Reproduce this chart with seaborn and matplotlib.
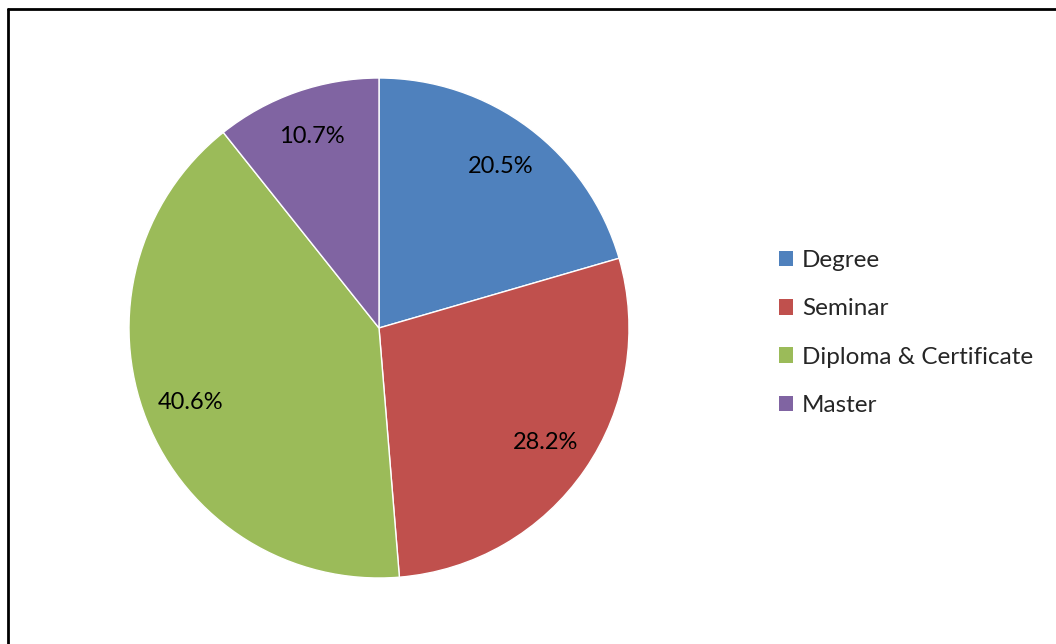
import matplotlib
matplotlib.use("Agg")
import matplotlib.pyplot as plt
import seaborn as sns
from matplotlib.patches import Patch
from matplotlib.lines import Line2D

categories = ["Degree", "Seminar", "Diploma & Certificate", "Master"]
shares = [20.5, 28.2, 40.6, 10.7]
colors = ["#4F81BD", "#C0504D", "#9BBB59", "#8064A2"]

sns.set_theme(style="white")
plt.rcParams["font.family"] = ["Lato", "DejaVu Sans"]

W, H = 1056, 644
fig = plt.figure(figsize=(W / 100, H / 100), dpi=100)
ax = fig.add_axes([(379 - 250) / W, (316 - 250) / H, 500 / W, 500 / H])

wedges, texts, autotexts = ax.pie(
    shares, colors=colors, startangle=90, counterclock=False,
    autopct="%.1f%%", pctdistance=0.81,
    wedgeprops=dict(edgecolor="white", linewidth=1),
    textprops=dict(fontsize=17, color="black"),
)
ax.set_xlim(-1, 1)
ax.set_ylim(-1, 1)
ax.set_aspect("equal")

handles = [Patch(facecolor=c, edgecolor="none", label=l) for c, l in zip(colors, categories)]
fig.legend(handles=handles, loc="center left", bbox_to_anchor=(769 / W, 1 - 333 / H),
           frameon=False, fontsize=17.5, handlelength=0.6, handleheight=0.6,
           handletextpad=0.35, labelspacing=1.12, borderaxespad=0)

# outer frame (left and top edges only, like the cropped reference)
fig.add_artist(Line2D([8 / W, 8 / W], [0, 1 - 9 / H], transform=fig.transFigure, color="black", lw=2))
fig.add_artist(Line2D([8 / W, 1], [1 - 9 / H, 1 - 9 / H], transform=fig.transFigure, color="black", lw=2))

fig.savefig("out.png", dpi=100)
